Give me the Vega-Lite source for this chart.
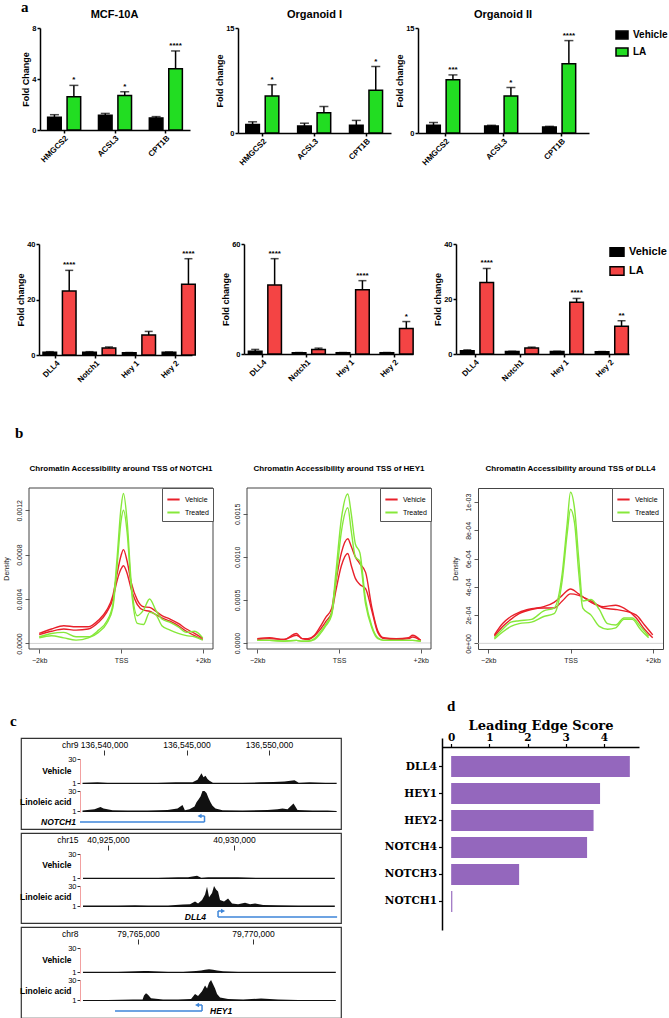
{
"$schema":"https://vega.github.io/schema/vega-lite/v6.json",
"background":"white",
"padding":{"left":2,"top":0,"right":0,"bottom":0},
"config":{
 "font":"Liberation Sans",
 "view":{"stroke":null},
 "axis":{"labelFont":"Liberation Sans","titleFont":"Liberation Sans","labelFontWeight":"bold","titleFontWeight":"bold","labelFontSize":7.5,"titleFontSize":9,"domainColor":"black","tickColor":"black","labelColor":"black","titleColor":"black","domainWidth":1.5,"tickWidth":1.5,"tickSize":3,"grid":false,"labelPadding":1,"titlePadding":1,"labelOverlap":false},
 "title":{"font":"Liberation Sans","fontWeight":"bold","color":"black"},
 "legend":{"labelFont":"Liberation Sans","labelColor":"black"}
},
"datasets":{
"mcf":[
{"gene":"HMGCS2","group":"Vehicle","mean":1.0,"upper":1.2,"sig":""},
{"gene":"HMGCS2","group":"LA","mean":2.6,"upper":3.5,"sig":"*"},
{"gene":"ACSL3","group":"Vehicle","mean":1.15,"upper":1.3,"sig":""},
{"gene":"ACSL3","group":"LA","mean":2.7,"upper":3.0,"sig":"*"},
{"gene":"CPT1B","group":"Vehicle","mean":0.95,"upper":1.05,"sig":""},
{"gene":"CPT1B","group":"LA","mean":4.8,"upper":6.2,"sig":"****"}],
"org1":[
{"gene":"HMGCS2","group":"Vehicle","mean":1.2,"upper":1.6,"sig":""},
{"gene":"HMGCS2","group":"LA","mean":5.3,"upper":6.9,"sig":"*"},
{"gene":"ACSL3","group":"Vehicle","mean":1.0,"upper":1.4,"sig":""},
{"gene":"ACSL3","group":"LA","mean":2.9,"upper":3.8,"sig":""},
{"gene":"CPT1B","group":"Vehicle","mean":1.1,"upper":1.8,"sig":""},
{"gene":"CPT1B","group":"LA","mean":6.1,"upper":9.5,"sig":"*"}],
"org2":[
{"gene":"HMGCS2","group":"Vehicle","mean":1.1,"upper":1.5,"sig":""},
{"gene":"HMGCS2","group":"LA","mean":7.6,"upper":8.3,"sig":"***"},
{"gene":"ACSL3","group":"Vehicle","mean":1.0,"upper":1.1,"sig":""},
{"gene":"ACSL3","group":"LA","mean":5.3,"upper":6.5,"sig":"*"},
{"gene":"CPT1B","group":"Vehicle","mean":0.85,"upper":0.95,"sig":""},
{"gene":"CPT1B","group":"LA","mean":9.9,"upper":13.2,"sig":"****"}],
"n1":[
{"gene":"DLL4","group":"Vehicle","mean":1.0,"upper":1.2,"sig":""},
{"gene":"DLL4","group":"LA","mean":23.1,"upper":30.5,"sig":"****"},
{"gene":"Notch1","group":"Vehicle","mean":1.0,"upper":1.2,"sig":""},
{"gene":"Notch1","group":"LA","mean":2.5,"upper":2.9,"sig":""},
{"gene":"Hey 1","group":"Vehicle","mean":0.8,"upper":0.9,"sig":""},
{"gene":"Hey 1","group":"LA","mean":7.2,"upper":8.5,"sig":""},
{"gene":"Hey 2","group":"Vehicle","mean":1.0,"upper":1.1,"sig":""},
{"gene":"Hey 2","group":"LA","mean":25.5,"upper":34.7,"sig":"****"}],
"n2":[
{"gene":"DLL4","group":"Vehicle","mean":1.5,"upper":2.5,"sig":""},
{"gene":"DLL4","group":"LA","mean":37.7,"upper":52,"sig":"****"},
{"gene":"Notch1","group":"Vehicle","mean":0.7,"upper":0.8,"sig":""},
{"gene":"Notch1","group":"LA","mean":2.5,"upper":3.2,"sig":""},
{"gene":"Hey 1","group":"Vehicle","mean":0.7,"upper":0.8,"sig":""},
{"gene":"Hey 1","group":"LA","mean":35,"upper":40,"sig":"****"},
{"gene":"Hey 2","group":"Vehicle","mean":0.7,"upper":0.8,"sig":""},
{"gene":"Hey 2","group":"LA","mean":13.9,"upper":17.7,"sig":"*"}],
"n3":[
{"gene":"DLL4","group":"Vehicle","mean":1.2,"upper":1.5,"sig":""},
{"gene":"DLL4","group":"LA","mean":26,"upper":31.1,"sig":"****"},
{"gene":"Notch1","group":"Vehicle","mean":0.9,"upper":1.0,"sig":""},
{"gene":"Notch1","group":"LA","mean":2.2,"upper":2.5,"sig":""},
{"gene":"Hey 1","group":"Vehicle","mean":0.9,"upper":1.0,"sig":""},
{"gene":"Hey 1","group":"LA","mean":18.8,"upper":20.2,"sig":"****"},
{"gene":"Hey 2","group":"Vehicle","mean":0.8,"upper":0.9,"sig":""},
{"gene":"Hey 2","group":"LA","mean":10.1,"upper":12.1,"sig":"**"}],
"dN":[
{"cond":"Vehicle","rep":"A","pos":-2000,"density":0.9e-4},{"cond":"Vehicle","rep":"A","pos":-1700,"density":1.3e-4},{"cond":"Vehicle","rep":"A","pos":-1400,"density":1.6e-4},{"cond":"Vehicle","rep":"A","pos":-1100,"density":1.5e-4},{"cond":"Vehicle","rep":"A","pos":-800,"density":1.5e-4},{"cond":"Vehicle","rep":"A","pos":-550,"density":2.1e-4},{"cond":"Vehicle","rep":"A","pos":-350,"density":3.0e-4},{"cond":"Vehicle","rep":"A","pos":-200,"density":4.3e-4},{"cond":"Vehicle","rep":"A","pos":-100,"density":6.2e-4},{"cond":"Vehicle","rep":"A","pos":0,"density":7.9e-4},{"cond":"Vehicle","rep":"A","pos":60,"density":8.45e-4},{"cond":"Vehicle","rep":"A","pos":150,"density":7.4e-4},{"cond":"Vehicle","rep":"A","pos":250,"density":5.5e-4},{"cond":"Vehicle","rep":"A","pos":400,"density":3.9e-4},{"cond":"Vehicle","rep":"A","pos":550,"density":3.3e-4},{"cond":"Vehicle","rep":"A","pos":700,"density":3.25e-4},{"cond":"Vehicle","rep":"A","pos":850,"density":2.9e-4},{"cond":"Vehicle","rep":"A","pos":1000,"density":2.5e-4},{"cond":"Vehicle","rep":"A","pos":1200,"density":2.2e-4},{"cond":"Vehicle","rep":"A","pos":1400,"density":1.8e-4},{"cond":"Vehicle","rep":"A","pos":1600,"density":1.3e-4},{"cond":"Vehicle","rep":"A","pos":1800,"density":0.9e-4},{"cond":"Vehicle","rep":"A","pos":2000,"density":0.45e-4},
{"cond":"Vehicle","rep":"B","pos":-2000,"density":0.8e-4},{"cond":"Vehicle","rep":"B","pos":-1700,"density":1.1e-4},{"cond":"Vehicle","rep":"B","pos":-1400,"density":1.3e-4},{"cond":"Vehicle","rep":"B","pos":-1100,"density":1.2e-4},{"cond":"Vehicle","rep":"B","pos":-800,"density":1.3e-4},{"cond":"Vehicle","rep":"B","pos":-550,"density":1.9e-4},{"cond":"Vehicle","rep":"B","pos":-350,"density":2.8e-4},{"cond":"Vehicle","rep":"B","pos":-200,"density":4.0e-4},{"cond":"Vehicle","rep":"B","pos":-100,"density":5.6e-4},{"cond":"Vehicle","rep":"B","pos":0,"density":6.7e-4},{"cond":"Vehicle","rep":"B","pos":60,"density":7.0e-4},{"cond":"Vehicle","rep":"B","pos":150,"density":6.3e-4},{"cond":"Vehicle","rep":"B","pos":250,"density":4.9e-4},{"cond":"Vehicle","rep":"B","pos":400,"density":3.5e-4},{"cond":"Vehicle","rep":"B","pos":550,"density":3.0e-4},{"cond":"Vehicle","rep":"B","pos":700,"density":2.9e-4},{"cond":"Vehicle","rep":"B","pos":850,"density":2.6e-4},{"cond":"Vehicle","rep":"B","pos":1000,"density":2.3e-4},{"cond":"Vehicle","rep":"B","pos":1200,"density":2.0e-4},{"cond":"Vehicle","rep":"B","pos":1400,"density":1.6e-4},{"cond":"Vehicle","rep":"B","pos":1600,"density":1.1e-4},{"cond":"Vehicle","rep":"B","pos":1800,"density":0.7e-4},{"cond":"Vehicle","rep":"B","pos":2000,"density":0.35e-4},
{"cond":"Treated","rep":"A","pos":-2000,"density":0.6e-4},{"cond":"Treated","rep":"A","pos":-1700,"density":0.9e-4},{"cond":"Treated","rep":"A","pos":-1400,"density":1.0e-4},{"cond":"Treated","rep":"A","pos":-1100,"density":0.6e-4},{"cond":"Treated","rep":"A","pos":-800,"density":0.6e-4},{"cond":"Treated","rep":"A","pos":-550,"density":1.2e-4},{"cond":"Treated","rep":"A","pos":-350,"density":2.0e-4},{"cond":"Treated","rep":"A","pos":-200,"density":3.5e-4},{"cond":"Treated","rep":"A","pos":-100,"density":7.5e-4},{"cond":"Treated","rep":"A","pos":0,"density":12.2e-4},{"cond":"Treated","rep":"A","pos":60,"density":13.5e-4},{"cond":"Treated","rep":"A","pos":150,"density":11.0e-4},{"cond":"Treated","rep":"A","pos":250,"density":5.5e-4},{"cond":"Treated","rep":"A","pos":400,"density":2.5e-4},{"cond":"Treated","rep":"A","pos":550,"density":3.0e-4},{"cond":"Treated","rep":"A","pos":700,"density":4.0e-4},{"cond":"Treated","rep":"A","pos":850,"density":3.0e-4},{"cond":"Treated","rep":"A","pos":1000,"density":2.2e-4},{"cond":"Treated","rep":"A","pos":1200,"density":1.9e-4},{"cond":"Treated","rep":"A","pos":1400,"density":1.5e-4},{"cond":"Treated","rep":"A","pos":1600,"density":1.0e-4},{"cond":"Treated","rep":"A","pos":1800,"density":1.1e-4},{"cond":"Treated","rep":"A","pos":2000,"density":0.5e-4},
{"cond":"Treated","rep":"B","pos":-2000,"density":0.5e-4},{"cond":"Treated","rep":"B","pos":-1700,"density":0.7e-4},{"cond":"Treated","rep":"B","pos":-1400,"density":0.5e-4},{"cond":"Treated","rep":"B","pos":-1100,"density":0.3e-4},{"cond":"Treated","rep":"B","pos":-800,"density":0.5e-4},{"cond":"Treated","rep":"B","pos":-550,"density":1.0e-4},{"cond":"Treated","rep":"B","pos":-350,"density":1.8e-4},{"cond":"Treated","rep":"B","pos":-200,"density":3.2e-4},{"cond":"Treated","rep":"B","pos":-100,"density":6.8e-4},{"cond":"Treated","rep":"B","pos":0,"density":11.0e-4},{"cond":"Treated","rep":"B","pos":60,"density":12.0e-4},{"cond":"Treated","rep":"B","pos":150,"density":10.0e-4},{"cond":"Treated","rep":"B","pos":250,"density":5.0e-4},{"cond":"Treated","rep":"B","pos":400,"density":1.8e-4},{"cond":"Treated","rep":"B","pos":550,"density":1.7e-4},{"cond":"Treated","rep":"B","pos":700,"density":2.8e-4},{"cond":"Treated","rep":"B","pos":850,"density":2.6e-4},{"cond":"Treated","rep":"B","pos":1000,"density":1.6e-4},{"cond":"Treated","rep":"B","pos":1200,"density":1.2e-4},{"cond":"Treated","rep":"B","pos":1400,"density":0.9e-4},{"cond":"Treated","rep":"B","pos":1600,"density":0.7e-4},{"cond":"Treated","rep":"B","pos":1800,"density":0.6e-4},{"cond":"Treated","rep":"B","pos":2000,"density":0.3e-4}],
"dH":[
{"cond":"Vehicle","rep":"A","pos":-2000,"density":0.5e-4},{"cond":"Vehicle","rep":"A","pos":-1700,"density":0.6e-4},{"cond":"Vehicle","rep":"A","pos":-1350,"density":0.4e-4},{"cond":"Vehicle","rep":"A","pos":-1040,"density":1.1e-4},{"cond":"Vehicle","rep":"A","pos":-900,"density":0.5e-4},{"cond":"Vehicle","rep":"A","pos":-760,"density":0.5e-4},{"cond":"Vehicle","rep":"A","pos":-600,"density":0.9e-4},{"cond":"Vehicle","rep":"A","pos":-470,"density":1.8e-4},{"cond":"Vehicle","rep":"A","pos":-320,"density":3.0e-4},{"cond":"Vehicle","rep":"A","pos":-180,"density":4.0e-4},{"cond":"Vehicle","rep":"A","pos":-80,"density":7.0e-4},{"cond":"Vehicle","rep":"A","pos":60,"density":10.5e-4},{"cond":"Vehicle","rep":"A","pos":215,"density":12.1e-4},{"cond":"Vehicle","rep":"A","pos":300,"density":11.2e-4},{"cond":"Vehicle","rep":"A","pos":400,"density":10.0e-4},{"cond":"Vehicle","rep":"A","pos":510,"density":9.2e-4},{"cond":"Vehicle","rep":"A","pos":650,"density":8.2e-4},{"cond":"Vehicle","rep":"A","pos":800,"density":4.2e-4},{"cond":"Vehicle","rep":"A","pos":950,"density":1.4e-4},{"cond":"Vehicle","rep":"A","pos":1100,"density":0.6e-4},{"cond":"Vehicle","rep":"A","pos":1400,"density":0.5e-4},{"cond":"Vehicle","rep":"A","pos":1700,"density":0.6e-4},{"cond":"Vehicle","rep":"A","pos":1800,"density":0.9e-4},{"cond":"Vehicle","rep":"A","pos":2000,"density":0.3e-4},
{"cond":"Vehicle","rep":"B","pos":-2000,"density":0.4e-4},{"cond":"Vehicle","rep":"B","pos":-1700,"density":0.5e-4},{"cond":"Vehicle","rep":"B","pos":-1350,"density":0.4e-4},{"cond":"Vehicle","rep":"B","pos":-1040,"density":0.9e-4},{"cond":"Vehicle","rep":"B","pos":-900,"density":0.5e-4},{"cond":"Vehicle","rep":"B","pos":-760,"density":0.4e-4},{"cond":"Vehicle","rep":"B","pos":-600,"density":0.8e-4},{"cond":"Vehicle","rep":"B","pos":-470,"density":1.5e-4},{"cond":"Vehicle","rep":"B","pos":-320,"density":2.5e-4},{"cond":"Vehicle","rep":"B","pos":-180,"density":3.5e-4},{"cond":"Vehicle","rep":"B","pos":-80,"density":6.0e-4},{"cond":"Vehicle","rep":"B","pos":60,"density":9.0e-4},{"cond":"Vehicle","rep":"B","pos":215,"density":10.4e-4},{"cond":"Vehicle","rep":"B","pos":300,"density":9.0e-4},{"cond":"Vehicle","rep":"B","pos":400,"density":7.5e-4},{"cond":"Vehicle","rep":"B","pos":510,"density":6.8e-4},{"cond":"Vehicle","rep":"B","pos":650,"density":6.3e-4},{"cond":"Vehicle","rep":"B","pos":800,"density":3.8e-4},{"cond":"Vehicle","rep":"B","pos":950,"density":1.2e-4},{"cond":"Vehicle","rep":"B","pos":1100,"density":0.5e-4},{"cond":"Vehicle","rep":"B","pos":1400,"density":0.4e-4},{"cond":"Vehicle","rep":"B","pos":1700,"density":0.5e-4},{"cond":"Vehicle","rep":"B","pos":1800,"density":0.7e-4},{"cond":"Vehicle","rep":"B","pos":2000,"density":0.3e-4},
{"cond":"Treated","rep":"A","pos":-2000,"density":0.3e-4},{"cond":"Treated","rep":"A","pos":-1700,"density":0.3e-4},{"cond":"Treated","rep":"A","pos":-1350,"density":0.2e-4},{"cond":"Treated","rep":"A","pos":-1040,"density":0.3e-4},{"cond":"Treated","rep":"A","pos":-900,"density":0.2e-4},{"cond":"Treated","rep":"A","pos":-760,"density":0.2e-4},{"cond":"Treated","rep":"A","pos":-600,"density":0.5e-4},{"cond":"Treated","rep":"A","pos":-470,"density":1.2e-4},{"cond":"Treated","rep":"A","pos":-320,"density":2.2e-4},{"cond":"Treated","rep":"A","pos":-180,"density":3.5e-4},{"cond":"Treated","rep":"A","pos":-80,"density":8.0e-4},{"cond":"Treated","rep":"A","pos":60,"density":14.5e-4},{"cond":"Treated","rep":"A","pos":215,"density":17.3e-4},{"cond":"Treated","rep":"A","pos":300,"density":15.0e-4},{"cond":"Treated","rep":"A","pos":400,"density":11.5e-4},{"cond":"Treated","rep":"A","pos":510,"density":10.5e-4},{"cond":"Treated","rep":"A","pos":650,"density":5.0e-4},{"cond":"Treated","rep":"A","pos":800,"density":2.0e-4},{"cond":"Treated","rep":"A","pos":950,"density":0.6e-4},{"cond":"Treated","rep":"A","pos":1100,"density":0.3e-4},{"cond":"Treated","rep":"A","pos":1400,"density":0.3e-4},{"cond":"Treated","rep":"A","pos":1700,"density":0.3e-4},{"cond":"Treated","rep":"A","pos":1800,"density":0.3e-4},{"cond":"Treated","rep":"A","pos":2000,"density":0.2e-4},
{"cond":"Treated","rep":"B","pos":-2000,"density":0.3e-4},{"cond":"Treated","rep":"B","pos":-1700,"density":0.3e-4},{"cond":"Treated","rep":"B","pos":-1350,"density":0.2e-4},{"cond":"Treated","rep":"B","pos":-1040,"density":0.3e-4},{"cond":"Treated","rep":"B","pos":-900,"density":0.2e-4},{"cond":"Treated","rep":"B","pos":-760,"density":0.2e-4},{"cond":"Treated","rep":"B","pos":-600,"density":0.4e-4},{"cond":"Treated","rep":"B","pos":-470,"density":1.0e-4},{"cond":"Treated","rep":"B","pos":-320,"density":2.0e-4},{"cond":"Treated","rep":"B","pos":-180,"density":3.2e-4},{"cond":"Treated","rep":"B","pos":-80,"density":7.0e-4},{"cond":"Treated","rep":"B","pos":60,"density":13.0e-4},{"cond":"Treated","rep":"B","pos":215,"density":15.7e-4},{"cond":"Treated","rep":"B","pos":300,"density":13.0e-4},{"cond":"Treated","rep":"B","pos":400,"density":10.0e-4},{"cond":"Treated","rep":"B","pos":510,"density":9.5e-4},{"cond":"Treated","rep":"B","pos":650,"density":4.5e-4},{"cond":"Treated","rep":"B","pos":800,"density":1.8e-4},{"cond":"Treated","rep":"B","pos":950,"density":0.5e-4},{"cond":"Treated","rep":"B","pos":1100,"density":0.3e-4},{"cond":"Treated","rep":"B","pos":1400,"density":0.3e-4},{"cond":"Treated","rep":"B","pos":1700,"density":0.3e-4},{"cond":"Treated","rep":"B","pos":1800,"density":0.3e-4},{"cond":"Treated","rep":"B","pos":2000,"density":0.2e-4}],
"dD":[
{"cond":"Vehicle","rep":"A","pos":-1850,"density":0.6e-4},{"cond":"Vehicle","rep":"A","pos":-1650,"density":1.4e-4},{"cond":"Vehicle","rep":"A","pos":-1450,"density":1.9e-4},{"cond":"Vehicle","rep":"A","pos":-1250,"density":2.2e-4},{"cond":"Vehicle","rep":"A","pos":-950,"density":2.45e-4},{"cond":"Vehicle","rep":"A","pos":-650,"density":2.6e-4},{"cond":"Vehicle","rep":"A","pos":-400,"density":2.9e-4},{"cond":"Vehicle","rep":"A","pos":-200,"density":3.4e-4},{"cond":"Vehicle","rep":"A","pos":0,"density":3.85e-4},{"cond":"Vehicle","rep":"A","pos":200,"density":3.5e-4},{"cond":"Vehicle","rep":"A","pos":500,"density":2.9e-4},{"cond":"Vehicle","rep":"A","pos":800,"density":2.6e-4},{"cond":"Vehicle","rep":"A","pos":1100,"density":2.7e-4},{"cond":"Vehicle","rep":"A","pos":1300,"density":2.5e-4},{"cond":"Vehicle","rep":"A","pos":1600,"density":1.8e-4},{"cond":"Vehicle","rep":"A","pos":1800,"density":1.0e-4},{"cond":"Vehicle","rep":"A","pos":2000,"density":0.4e-4},
{"cond":"Vehicle","rep":"B","pos":-1850,"density":0.5e-4},{"cond":"Vehicle","rep":"B","pos":-1650,"density":1.2e-4},{"cond":"Vehicle","rep":"B","pos":-1450,"density":1.7e-4},{"cond":"Vehicle","rep":"B","pos":-1250,"density":2.1e-4},{"cond":"Vehicle","rep":"B","pos":-950,"density":2.4e-4},{"cond":"Vehicle","rep":"B","pos":-650,"density":2.5e-4},{"cond":"Vehicle","rep":"B","pos":-400,"density":2.5e-4},{"cond":"Vehicle","rep":"B","pos":-200,"density":3.0e-4},{"cond":"Vehicle","rep":"B","pos":0,"density":3.5e-4},{"cond":"Vehicle","rep":"B","pos":200,"density":3.4e-4},{"cond":"Vehicle","rep":"B","pos":500,"density":3.0e-4},{"cond":"Vehicle","rep":"B","pos":800,"density":2.5e-4},{"cond":"Vehicle","rep":"B","pos":1100,"density":2.4e-4},{"cond":"Vehicle","rep":"B","pos":1300,"density":2.3e-4},{"cond":"Vehicle","rep":"B","pos":1600,"density":2.0e-4},{"cond":"Vehicle","rep":"B","pos":1800,"density":1.3e-4},{"cond":"Vehicle","rep":"B","pos":2000,"density":0.6e-4},
{"cond":"Treated","rep":"A","pos":-1850,"density":0.4e-4},{"cond":"Treated","rep":"A","pos":-1650,"density":1.0e-4},{"cond":"Treated","rep":"A","pos":-1450,"density":1.5e-4},{"cond":"Treated","rep":"A","pos":-1250,"density":1.6e-4},{"cond":"Treated","rep":"A","pos":-950,"density":1.7e-4},{"cond":"Treated","rep":"A","pos":-650,"density":2.3e-4},{"cond":"Treated","rep":"A","pos":-400,"density":2.5e-4},{"cond":"Treated","rep":"A","pos":-200,"density":5.0e-4},{"cond":"Treated","rep":"A","pos":-80,"density":8.5e-4},{"cond":"Treated","rep":"A","pos":0,"density":10.7e-4},{"cond":"Treated","rep":"A","pos":100,"density":9.5e-4},{"cond":"Treated","rep":"A","pos":200,"density":6.0e-4},{"cond":"Treated","rep":"A","pos":300,"density":3.0e-4},{"cond":"Treated","rep":"A","pos":500,"density":3.1e-4},{"cond":"Treated","rep":"A","pos":700,"density":2.4e-4},{"cond":"Treated","rep":"A","pos":900,"density":1.4e-4},{"cond":"Treated","rep":"A","pos":1100,"density":1.3e-4},{"cond":"Treated","rep":"A","pos":1300,"density":1.8e-4},{"cond":"Treated","rep":"A","pos":1500,"density":1.8e-4},{"cond":"Treated","rep":"A","pos":1700,"density":1.2e-4},{"cond":"Treated","rep":"A","pos":1900,"density":0.5e-4},
{"cond":"Treated","rep":"B","pos":-1850,"density":0.3e-4},{"cond":"Treated","rep":"B","pos":-1650,"density":0.8e-4},{"cond":"Treated","rep":"B","pos":-1450,"density":1.2e-4},{"cond":"Treated","rep":"B","pos":-1250,"density":1.4e-4},{"cond":"Treated","rep":"B","pos":-950,"density":1.5e-4},{"cond":"Treated","rep":"B","pos":-650,"density":1.9e-4},{"cond":"Treated","rep":"B","pos":-400,"density":2.1e-4},{"cond":"Treated","rep":"B","pos":-200,"density":4.5e-4},{"cond":"Treated","rep":"B","pos":-80,"density":7.8e-4},{"cond":"Treated","rep":"B","pos":0,"density":9.5e-4},{"cond":"Treated","rep":"B","pos":100,"density":8.5e-4},{"cond":"Treated","rep":"B","pos":200,"density":5.0e-4},{"cond":"Treated","rep":"B","pos":300,"density":2.5e-4},{"cond":"Treated","rep":"B","pos":500,"density":2.0e-4},{"cond":"Treated","rep":"B","pos":700,"density":1.2e-4},{"cond":"Treated","rep":"B","pos":900,"density":1.0e-4},{"cond":"Treated","rep":"B","pos":1100,"density":1.1e-4},{"cond":"Treated","rep":"B","pos":1300,"density":1.7e-4},{"cond":"Treated","rep":"B","pos":1500,"density":1.7e-4},{"cond":"Treated","rep":"B","pos":1700,"density":1.0e-4},{"cond":"Treated","rep":"B","pos":1900,"density":0.4e-4}],
"sig1":[
{"track":"Vehicle","pos":136538698,"signal":1.5},{"track":"Vehicle","pos":136539607,"signal":2},{"track":"Vehicle","pos":136540213,"signal":1.5},{"track":"Vehicle","pos":136541122,"signal":1.5},{"track":"Vehicle","pos":136542031,"signal":1.5},{"track":"Vehicle","pos":136543243,"signal":1.5},{"track":"Vehicle","pos":136544333,"signal":2},{"track":"Vehicle","pos":136545364,"signal":2},{"track":"Vehicle","pos":136545667,"signal":5},{"track":"Vehicle","pos":136545788,"signal":9},{"track":"Vehicle","pos":136545909,"signal":13},{"track":"Vehicle","pos":136546030,"signal":8},{"track":"Vehicle","pos":136546151,"signal":10},{"track":"Vehicle","pos":136546273,"signal":6},{"track":"Vehicle","pos":136546394,"signal":4},{"track":"Vehicle","pos":136546600,"signal":1.5},{"track":"Vehicle","pos":136547182,"signal":1.5},{"track":"Vehicle","pos":136548394,"signal":1.5},{"track":"Vehicle","pos":136549424,"signal":2},{"track":"Vehicle","pos":136550272,"signal":2.5},{"track":"Vehicle","pos":136550939,"signal":3},{"track":"Vehicle","pos":136551545,"signal":4.5},{"track":"Vehicle","pos":136551800,"signal":1.5},{"track":"Vehicle","pos":136552454,"signal":2},{"track":"Vehicle","pos":136553423,"signal":1.5},{"track":"Vehicle","pos":136554100,"signal":1.5},
{"track":"LA","pos":136538698,"signal":2},{"track":"LA","pos":136539425,"signal":4},{"track":"LA","pos":136539788,"signal":7},{"track":"LA","pos":136539970,"signal":5},{"track":"LA","pos":136540515,"signal":2.5},{"track":"LA","pos":136541425,"signal":2},{"track":"LA","pos":136542637,"signal":2},{"track":"LA","pos":136543849,"signal":3},{"track":"LA","pos":136544455,"signal":5},{"track":"LA","pos":136544758,"signal":10},{"track":"LA","pos":136544900,"signal":2.5},{"track":"LA","pos":136545182,"signal":4},{"track":"LA","pos":136545485,"signal":8},{"track":"LA","pos":136545606,"signal":14},{"track":"LA","pos":136545727,"signal":18},{"track":"LA","pos":136545848,"signal":22},{"track":"LA","pos":136545970,"signal":30},{"track":"LA","pos":136546091,"signal":30},{"track":"LA","pos":136546212,"signal":27},{"track":"LA","pos":136546333,"signal":20},{"track":"LA","pos":136546454,"signal":14},{"track":"LA","pos":136546576,"signal":9},{"track":"LA","pos":136546757,"signal":5},{"track":"LA","pos":136547182,"signal":2.5},{"track":"LA","pos":136548394,"signal":2},{"track":"LA","pos":136549909,"signal":3},{"track":"LA","pos":136550515,"signal":4},{"track":"LA","pos":136550818,"signal":5},{"track":"LA","pos":136551121,"signal":4},{"track":"LA","pos":136551485,"signal":12},{"track":"LA","pos":136551727,"signal":3},{"track":"LA","pos":136552636,"signal":2},{"track":"LA","pos":136553545,"signal":2},{"track":"LA","pos":136554100,"signal":1.5}],
"sig2":[
{"track":"Vehicle","pos":40924008,"signal":1.5},{"track":"Vehicle","pos":40924603,"signal":1.5},{"track":"Vehicle","pos":40925397,"signal":1.5},{"track":"Vehicle","pos":40926191,"signal":1.5},{"track":"Vehicle","pos":40926985,"signal":1.5},{"track":"Vehicle","pos":40927779,"signal":2},{"track":"Vehicle","pos":40928176,"signal":2},{"track":"Vehicle","pos":40928533,"signal":4},{"track":"Vehicle","pos":40928700,"signal":1.5},{"track":"Vehicle","pos":40928970,"signal":2},{"track":"Vehicle","pos":40929566,"signal":2},{"track":"Vehicle","pos":40930161,"signal":2},{"track":"Vehicle","pos":40930955,"signal":1.5},{"track":"Vehicle","pos":40931749,"signal":1.5},{"track":"Vehicle","pos":40932543,"signal":1.5},{"track":"Vehicle","pos":40933337,"signal":1.5},{"track":"Vehicle","pos":40934000,"signal":1.5},
{"track":"LA","pos":40924008,"signal":2},{"track":"LA","pos":40924603,"signal":2},{"track":"LA","pos":40925397,"signal":2},{"track":"LA","pos":40926072,"signal":2.5},{"track":"LA","pos":40926588,"signal":2},{"track":"LA","pos":40927382,"signal":2},{"track":"LA","pos":40927978,"signal":3.5},{"track":"LA","pos":40928255,"signal":4},{"track":"LA","pos":40928454,"signal":8},{"track":"LA","pos":40928573,"signal":5},{"track":"LA","pos":40928732,"signal":10},{"track":"LA","pos":40928851,"signal":18},{"track":"LA","pos":40928930,"signal":29},{"track":"LA","pos":40929010,"signal":14},{"track":"LA","pos":40929129,"signal":20},{"track":"LA","pos":40929208,"signal":30},{"track":"LA","pos":40929288,"signal":25},{"track":"LA","pos":40929367,"signal":22},{"track":"LA","pos":40929446,"signal":10},{"track":"LA","pos":40929605,"signal":8},{"track":"LA","pos":40929764,"signal":12},{"track":"LA","pos":40929923,"signal":5},{"track":"LA","pos":40930161,"signal":4},{"track":"LA","pos":40930439,"signal":6},{"track":"LA","pos":40930637,"signal":4},{"track":"LA","pos":40930836,"signal":5},{"track":"LA","pos":40931154,"signal":3},{"track":"LA","pos":40931749,"signal":2.5},{"track":"LA","pos":40932543,"signal":2},{"track":"LA","pos":40933337,"signal":2},{"track":"LA","pos":40934000,"signal":2}],
"sig3":[
{"track":"Vehicle","pos":79762607,"signal":1.5},{"track":"Vehicle","pos":79763260,"signal":1.5},{"track":"Vehicle","pos":79764130,"signal":1.5},{"track":"Vehicle","pos":79765261,"signal":2.5},{"track":"Vehicle","pos":79765435,"signal":2.5},{"track":"Vehicle","pos":79765696,"signal":2},{"track":"Vehicle","pos":79766305,"signal":1.5},{"track":"Vehicle","pos":79766957,"signal":1.5},{"track":"Vehicle","pos":79767523,"signal":2.5},{"track":"Vehicle","pos":79767741,"signal":3},{"track":"Vehicle","pos":79767915,"signal":4},{"track":"Vehicle","pos":79768089,"signal":4.5},{"track":"Vehicle","pos":79768263,"signal":4},{"track":"Vehicle","pos":79768437,"signal":3},{"track":"Vehicle","pos":79768698,"signal":2},{"track":"Vehicle","pos":79769350,"signal":1.5},{"track":"Vehicle","pos":79770220,"signal":1.5},{"track":"Vehicle","pos":79771090,"signal":1.5},{"track":"Vehicle","pos":79771960,"signal":1.5},{"track":"Vehicle","pos":79772830,"signal":1.5},{"track":"Vehicle","pos":79773600,"signal":1.5},
{"track":"LA","pos":79762607,"signal":1.5},{"track":"LA","pos":79763695,"signal":1.5},{"track":"LA","pos":79764783,"signal":2},{"track":"LA","pos":79765200,"signal":2},{"track":"LA","pos":79765261,"signal":8},{"track":"LA","pos":79765348,"signal":11},{"track":"LA","pos":79765435,"signal":9},{"track":"LA","pos":79765566,"signal":4},{"track":"LA","pos":79766088,"signal":2},{"track":"LA","pos":79766740,"signal":2},{"track":"LA","pos":79767306,"signal":3},{"track":"LA","pos":79767480,"signal":10},{"track":"LA","pos":79767610,"signal":7},{"track":"LA","pos":79767784,"signal":14},{"track":"LA","pos":79767915,"signal":22},{"track":"LA","pos":79768002,"signal":18},{"track":"LA","pos":79768089,"signal":26},{"track":"LA","pos":79768176,"signal":30},{"track":"LA","pos":79768263,"signal":24},{"track":"LA","pos":79768350,"signal":18},{"track":"LA","pos":79768437,"signal":10},{"track":"LA","pos":79768567,"signal":5},{"track":"LA","pos":79768915,"signal":3},{"track":"LA","pos":79769568,"signal":2},{"track":"LA","pos":79770351,"signal":3.5},{"track":"LA","pos":79771090,"signal":2},{"track":"LA","pos":79771960,"signal":1.5},{"track":"LA","pos":79772830,"signal":1.5},{"track":"LA","pos":79773600,"signal":1.5}],
"genes":[
{"gene":"NOTCH1","start":136538545,"end":136546091,"tss":136546091,"tip":136545788},
{"gene":"DLL4","start":40929367,"end":40934091,"tss":40929367,"tip":40929566},
{"gene":"HEY1","start":79764000,"end":79767784,"tss":79767784,"tip":79767567}],
"le":[
{"gene":"DLL4","score":4.68},{"gene":"HEY1","score":3.9},{"gene":"HEY2","score":3.73},{"gene":"NOTCH4","score":3.56},{"gene":"NOTCH3","score":1.78},{"gene":"NOTCH1","score":0.03}]
},
"resolve":{"scale":{"x":"independent","y":"independent","color":"independent"}},
"spacing":42,
"vconcat":[
{"spacing":73,"resolve":{"scale":{"x":"independent","y":"independent","color":"independent"}},
 "vconcat":[
 {"title":{"text":"a","anchor":"start","font":"Liberation Serif","fontSize":15,"fontWeight":"bold","offset":-6},
  "spacing":4,"resolve":{"scale":{"x":"independent","y":"independent","color":"independent"}},
  "hconcat":[
  {"width":169,"height":102,"title":{"text":"MCF-10A","fontSize":11,"offset":4,"dx":9},"data":{"name":"mcf"},
   "encoding":{"x":{"field":"gene","type":"nominal","sort":null,"scale":{"range":[19,169],"paddingInner":0.35,"paddingOuter":0.15},"axis":{"title":null,"labelAngle":-45,"labelFontSize":8}},"xOffset":{"field":"group","type":"nominal","sort":["Vehicle","LA"],"scale":{"paddingInner":0.3}}},
   "layer":[
    {"mark":{"type":"bar","stroke":"black","strokeWidth":1.5},"encoding":{"y":{"field":"mean","type":"quantitative","scale":{"domain":[0,8],"nice":false},"axis":{"title":"Fold Change","values":[0,2,4,6,8],"offset":-19}},"color":{"field":"group","type":"nominal","scale":{"domain":["Vehicle","LA"],"range":["#000000","#22dd22"]},"legend":null}}},
    {"mark":{"type":"rule","strokeWidth":1.5,"color":"black"},"encoding":{"y":{"field":"mean","type":"quantitative"},"y2":{"field":"upper"}}},
    {"mark":{"type":"tick","thickness":1.5,"size":9,"color":"black"},"encoding":{"y":{"field":"upper","type":"quantitative"}}},
    {"mark":{"type":"text","baseline":"bottom","dy":-1,"fontSize":8,"fontWeight":"bold"},"encoding":{"y":{"field":"upper","type":"quantitative"},"text":{"field":"sig"}}}]},
  {"width":197,"height":105,"title":{"text":"Organoid I","fontSize":11,"offset":4,"dx":22},"data":{"name":"org1"},
   "encoding":{"x":{"field":"gene","type":"nominal","sort":null,"scale":{"range":[44,197],"paddingInner":0.35,"paddingOuter":0.15},"axis":{"title":null,"labelAngle":-45,"labelFontSize":8}},"xOffset":{"field":"group","type":"nominal","sort":["Vehicle","LA"],"scale":{"paddingInner":0.3}}},
   "layer":[
    {"mark":{"type":"bar","stroke":"black","strokeWidth":1.5},"encoding":{"y":{"field":"mean","type":"quantitative","scale":{"domain":[0,15],"nice":false},"axis":{"title":"Fold change","values":[0,5,10,15],"offset":-44}},"color":{"field":"group","type":"nominal","scale":{"domain":["Vehicle","LA"],"range":["#000000","#22dd22"]},"legend":null}}},
    {"mark":{"type":"rule","strokeWidth":1.5,"color":"black"},"encoding":{"y":{"field":"mean","type":"quantitative"},"y2":{"field":"upper"}}},
    {"mark":{"type":"tick","thickness":1.5,"size":9,"color":"black"},"encoding":{"y":{"field":"upper","type":"quantitative"}}},
    {"mark":{"type":"text","baseline":"bottom","dy":-1,"fontSize":8,"fontWeight":"bold"},"encoding":{"y":{"field":"upper","type":"quantitative"},"text":{"field":"sig"}}}]},
  {"width":194,"height":105,"title":{"text":"Organoid II","fontSize":11,"offset":4,"dx":11},"data":{"name":"org2"},
   "encoding":{"x":{"field":"gene","type":"nominal","sort":null,"scale":{"range":[23,194],"paddingInner":0.35,"paddingOuter":0.15},"axis":{"title":null,"labelAngle":-45,"labelFontSize":8}},"xOffset":{"field":"group","type":"nominal","sort":["Vehicle","LA"],"scale":{"paddingInner":0.3}}},
   "layer":[
    {"mark":{"type":"bar","stroke":"black","strokeWidth":1.5},"encoding":{"y":{"field":"mean","type":"quantitative","scale":{"domain":[0,15],"nice":false},"axis":{"title":"Fold change","values":[0,5,10,15],"offset":-23}},"color":{"field":"group","type":"nominal","scale":{"domain":["Vehicle","LA"],"range":["#000000","#22dd22"]},"legend":{"title":null,"orient":"right","offset":26,"labelFontSize":10,"labelFontWeight":"bold","symbolType":"M-1,-0.65H1V0.65H-1Z","symbolSize":144,"symbolStrokeColor":"black","symbolStrokeWidth":1.5,"rowPadding":3,"padding":0}}}},
    {"mark":{"type":"rule","strokeWidth":1.5,"color":"black"},"encoding":{"y":{"field":"mean","type":"quantitative"},"y2":{"field":"upper"}}},
    {"mark":{"type":"tick","thickness":1.5,"size":9,"color":"black"},"encoding":{"y":{"field":"upper","type":"quantitative"}}},
    {"mark":{"type":"text","baseline":"bottom","dy":-1,"fontSize":8,"fontWeight":"bold"},"encoding":{"y":{"field":"upper","type":"quantitative"},"text":{"field":"sig"}}}]}
  ]},
 {"spacing":4,"resolve":{"scale":{"x":"independent","y":"independent","color":"independent"}},
  "hconcat":[
  {"width":171,"height":111,"data":{"name":"n1"},
   "encoding":{"x":{"field":"gene","type":"nominal","sort":null,"scale":{"range":[18,171],"paddingInner":0.35,"paddingOuter":0.1},"axis":{"title":null,"labelAngle":-45,"labelFontSize":8}},"xOffset":{"field":"group","type":"nominal","sort":["Vehicle","LA"],"scale":{"paddingInner":0.3}}},
   "layer":[
    {"mark":{"type":"bar","stroke":"black","strokeWidth":1.5},"encoding":{"y":{"field":"mean","type":"quantitative","scale":{"domain":[0,40],"nice":false},"axis":{"title":"Fold change","values":[0,10,20,30,40],"offset":-18}},"color":{"field":"group","type":"nominal","scale":{"domain":["Vehicle","LA"],"range":["#000000","#f44444"]},"legend":null}}},
    {"mark":{"type":"rule","strokeWidth":1.5,"color":"black"},"encoding":{"y":{"field":"mean","type":"quantitative"},"y2":{"field":"upper"}}},
    {"mark":{"type":"tick","thickness":1.5,"size":8,"color":"black"},"encoding":{"y":{"field":"upper","type":"quantitative"}}},
    {"mark":{"type":"text","baseline":"bottom","dy":-1,"fontSize":8,"fontWeight":"bold"},"encoding":{"y":{"field":"upper","type":"quantitative"},"text":{"field":"sig"}}}]},
  {"width":213,"height":110,"data":{"name":"n2"},
   "encoding":{"x":{"field":"gene","type":"nominal","sort":null,"scale":{"range":[44,213],"paddingInner":0.35,"paddingOuter":0.1},"axis":{"title":null,"labelAngle":-45,"labelFontSize":8}},"xOffset":{"field":"group","type":"nominal","sort":["Vehicle","LA"],"scale":{"paddingInner":0.3}}},
   "layer":[
    {"mark":{"type":"bar","stroke":"black","strokeWidth":1.5},"encoding":{"y":{"field":"mean","type":"quantitative","scale":{"domain":[0,60],"nice":false},"axis":{"title":"Fold change","values":[0,20,40,60],"offset":-44}},"color":{"field":"group","type":"nominal","scale":{"domain":["Vehicle","LA"],"range":["#000000","#f44444"]},"legend":null}}},
    {"mark":{"type":"rule","strokeWidth":1.5,"color":"black"},"encoding":{"y":{"field":"mean","type":"quantitative"},"y2":{"field":"upper"}}},
    {"mark":{"type":"tick","thickness":1.5,"size":8,"color":"black"},"encoding":{"y":{"field":"upper","type":"quantitative"}}},
    {"mark":{"type":"text","baseline":"bottom","dy":-1,"fontSize":8,"fontWeight":"bold"},"encoding":{"y":{"field":"upper","type":"quantitative"},"text":{"field":"sig"}}}]},
  {"width":211,"height":110,"data":{"name":"n3"},
   "encoding":{"x":{"field":"gene","type":"nominal","sort":null,"scale":{"range":[38,211],"paddingInner":0.35,"paddingOuter":0.1},"axis":{"title":null,"labelAngle":-45,"labelFontSize":8}},"xOffset":{"field":"group","type":"nominal","sort":["Vehicle","LA"],"scale":{"paddingInner":0.3}}},
   "layer":[
    {"mark":{"type":"bar","stroke":"black","strokeWidth":1.5},"encoding":{"y":{"field":"mean","type":"quantitative","scale":{"domain":[0,40],"nice":false},"axis":{"title":"Fold change","values":[0,10,20,30,40],"offset":-38}},"color":{"field":"group","type":"nominal","scale":{"domain":["Vehicle","LA"],"range":["#000000","#f44444"]},"legend":{"title":null,"orient":"right","offset":-20,"labelFontSize":11,"labelFontWeight":"bold","symbolType":"M-1,-0.6H1V0.6H-1Z","symbolSize":196,"symbolStrokeColor":"black","symbolStrokeWidth":1.5,"rowPadding":3,"padding":0}}}},
    {"mark":{"type":"rule","strokeWidth":1.5,"color":"black"},"encoding":{"y":{"field":"mean","type":"quantitative"},"y2":{"field":"upper"}}},
    {"mark":{"type":"tick","thickness":1.5,"size":8,"color":"black"},"encoding":{"y":{"field":"upper","type":"quantitative"}}},
    {"mark":{"type":"text","baseline":"bottom","dy":-1,"fontSize":8,"fontWeight":"bold"},"encoding":{"y":{"field":"upper","type":"quantitative"},"text":{"field":"sig"}}}]}
  ]}
 ]},
{"spacing":34,"resolve":{"scale":{"x":"independent","y":"independent","color":"independent"}},
 "vconcat":[
 {"title":{"text":"b","anchor":"start","font":"Liberation Serif","fontSize":15,"fontWeight":"bold","offset":23,"dx":13},
  "spacing":18,"resolve":{"scale":{"x":"independent","y":"independent","color":"independent"}},
  "hconcat":[
  {"width":192,"height":161,
   "title":{"text":"Chromatin Accessibility around TSS of NOTCH1","fontSize":8,"offset":15,"dx":4},
   "layer":[
    {"data":{"name":"dN"},"mark":{"type":"line","interpolate":"monotone","strokeWidth":1.4},
     "encoding":{
      "x":{"field":"pos","type":"quantitative","scale":{"domain":[-2250,2250],"range":[8,192],"nice":false,"zero":false},"axis":{"values":[-2000,0,2000],"labelExpr":"datum.value < 0 ? '−2kb' : (datum.value > 0 ? '+2kb' : 'TSS')","title":null,"labelAngle":0,"labelFontWeight":"normal","labelFontSize":7,"domain":false,"tickWidth":0.8,"tickSize":4,"tickColor":"#333","labelColor":"#222","labelPadding":3}},
      "y":{"field":"density","type":"quantitative","scale":{"domain":[-0.00005,0.0014],"nice":false,"zero":false},"axis":{"offset":-8,"values":[0,0.0002,0.0004,0.0006,0.0008,0.001,0.0012],"labelExpr":"round(datum.value*10000) % 4 == 0 ? format(datum.value, '.4f') : ''","title":"Density","titleFontSize":7,"titleFontWeight":"normal","titleColor":"#222","labelFontWeight":"normal","labelFontSize":7,"labelAngle":-90,"labelAlign":"center","labelBaseline":"bottom","labelColor":"#222","labelOverlap":false,"labelPadding":3,"domain":false,"tickWidth":0.8,"tickSize":4,"tickColor":"#333","titlePadding":6}},
      "color":{"field":"cond","type":"nominal","scale":{"domain":["Vehicle","Treated"],"range":["#e8202a","#86e83a"]},"legend":{"title":null,"orient":"top-right","offset":0,"padding":4,"strokeColor":"#555","fillColor":"white","labelFontSize":7,"symbolType":"stroke","symbolStrokeWidth":2,"symbolSize":150,"rowPadding":1}},
      "detail":{"field":"rep"}}},
    {"data":{"values":[{}]},"mark":{"type":"rule","color":"#c8c8c8","strokeWidth":0.8},"encoding":{"x":{"datum":-2250},"x2":{"datum":2250},"y":{"datum":0}}},
    {"data":{"values":[{}]},"mark":{"type":"rect","filled":false,"stroke":"#444","strokeWidth":1},"encoding":{"x":{"datum":-2250},"x2":{"datum":2250},"y":{"datum":-0.00005},"y2":{"datum":0.0014}}}]},
  {"width":198,"height":161,
   "title":{"text":"Chromatin Accessibility around TSS of HEY1","fontSize":8,"offset":15,"dx":7},
   "layer":[
    {"data":{"name":"dH"},"mark":{"type":"line","interpolate":"monotone","strokeWidth":1.4},
     "encoding":{
      "x":{"field":"pos","type":"quantitative","scale":{"domain":[-2250,2250],"range":[14,198],"nice":false,"zero":false},"axis":{"values":[-2000,0,2000],"labelExpr":"datum.value < 0 ? '−2kb' : (datum.value > 0 ? '+2kb' : 'TSS')","title":null,"labelAngle":0,"labelFontWeight":"normal","labelFontSize":7,"domain":false,"tickWidth":0.8,"tickSize":4,"tickColor":"#333","labelColor":"#222","labelPadding":3}},
      "y":{"field":"density","type":"quantitative","scale":{"domain":[-0.00007,0.0018],"nice":false,"zero":false},"axis":{"offset":-14,"values":[0,0.0005,0.001,0.0015],"format":".4f","title":null,"labelFontWeight":"normal","labelFontSize":7,"labelAngle":-90,"labelAlign":"center","labelBaseline":"bottom","labelColor":"#222","labelOverlap":false,"labelPadding":3,"domain":false,"tickWidth":0.8,"tickSize":4,"tickColor":"#333"}},
      "color":{"field":"cond","type":"nominal","scale":{"domain":["Vehicle","Treated"],"range":["#e8202a","#86e83a"]},"legend":{"title":null,"orient":"top-right","offset":0,"padding":4,"strokeColor":"#555","fillColor":"white","labelFontSize":7,"symbolType":"stroke","symbolStrokeWidth":2,"symbolSize":150,"rowPadding":1}},
      "detail":{"field":"rep"}}},
    {"data":{"values":[{}]},"mark":{"type":"rule","color":"#c8c8c8","strokeWidth":0.8},"encoding":{"x":{"datum":-2250},"x2":{"datum":2250},"y":{"datum":0}}},
    {"data":{"values":[{}]},"mark":{"type":"rect","filled":false,"stroke":"#444","strokeWidth":1},"encoding":{"x":{"datum":-2250},"x2":{"datum":2250},"y":{"datum":-0.00007},"y2":{"datum":0.0018}}}]},
  {"width":185,"height":161,"view":{"stroke":"#444","strokeWidth":1},
   "title":{"text":"Chromatin Accessibility around TSS of DLL4","fontSize":8,"offset":15},
   "resolve":{"axis":{"y":"independent"}},
   "layer":[
    {"data":{"name":"dD"},"mark":{"type":"line","interpolate":"monotone","strokeWidth":1.4},
     "encoding":{
      "x":{"field":"pos","type":"quantitative","scale":{"domain":[-2250,2250],"nice":false,"zero":false},"axis":{"values":[-2000,0,2000],"labelExpr":"datum.value < 0 ? '−2kb' : (datum.value > 0 ? '+2kb' : 'TSS')","title":null,"labelAngle":0,"labelFontWeight":"normal","labelFontSize":7,"domain":false,"tickWidth":0.8,"tickSize":4,"tickColor":"#333","labelColor":"#222","labelPadding":3}},
      "y":{"field":"density","type":"quantitative","scale":{"domain":[-0.00004,0.0011],"nice":false,"zero":false},"axis":{"orient":"left","values":[0,0.0004,0.0008],"labelExpr":"datum.value < 0.0000001 ? '0e+00' : round(datum.value*10000) + 'e-04'","title":"Density","titleFontSize":7,"titleFontWeight":"normal","titleColor":"#222","labelFontWeight":"normal","labelFontSize":7,"labelAngle":-90,"labelAlign":"center","labelBaseline":"bottom","labelColor":"#222","labelOverlap":false,"labelPadding":3,"domain":false,"tickWidth":0.8,"tickSize":4,"tickColor":"#333","titlePadding":6}},
      "color":{"field":"cond","type":"nominal","scale":{"domain":["Vehicle","Treated"],"range":["#e8202a","#86e83a"]},"legend":{"title":null,"orient":"top-right","offset":0,"padding":4,"strokeColor":"#555","fillColor":"white","labelFontSize":7,"symbolType":"stroke","symbolStrokeWidth":2,"symbolSize":150,"rowPadding":1}},
      "detail":{"field":"rep"}}},
    {"data":{"values":[{}]},"mark":{"type":"rule","color":"#c8c8c8","strokeWidth":0.8},"encoding":{"y":{"datum":0,"axis":{"orient":"left","values":[0.0002,0.0006,0.001],"labelExpr":"datum.value > 0.00099 ? '1e-03' : round(datum.value*10000) + 'e-04'","title":null,"labelFontWeight":"normal","labelFontSize":7,"labelAngle":-90,"labelAlign":"center","labelBaseline":"bottom","labelColor":"#222","labelOverlap":false,"labelPadding":3,"domain":false,"tickWidth":0.8,"tickSize":4,"tickColor":"#333"}}}}]}
  ]},
 {"spacing":42,"resolve":{"scale":{"x":"independent","y":"independent","color":"independent"}},
  "hconcat":[
  {"title":{"text":"c","anchor":"start","font":"Liberation Serif","fontSize":15,"fontWeight":"bold","offset":8,"dx":-9},
   "spacing":2,"resolve":{"scale":{"x":"independent","y":"independent"}},
   "vconcat":[
   {"width":320,"height":91,"view":{"stroke":"#333","strokeWidth":1.2},"data":{"name":"sig1"},
    "resolve":{"scale":{"y":"independent"},"axis":{"x":"independent","y":"independent"}},
    "layer":[
     {"transform":[{"filter":"datum.track == 'Vehicle'"}],"mark":{"type":"area","color":"#111"},
      "encoding":{
       "x":{"field":"pos","type":"quantitative","scale":{"domain":[136534970,136554363],"nice":false,"zero":false},"axis":{"orient":"top","offset":-17,"values":[136540000,136545000,136550000],"format":",d","title":"chr9","titleAngle":0,"titleX":57,"titleY":-6,"titleAlign":"right","titleBaseline":"bottom","titleFontWeight":"normal","titleFontSize":8.5,"labelFontWeight":"normal","labelFontSize":8.5,"labelAngle":0,"domain":false,"tickSize":5,"tickWidth":1,"tickColor":"#333","labelPadding":1}},
       "y":{"field":"signal","type":"quantitative","scale":{"domain":[0,30],"range":[46,21],"nice":false},"axis":{"orient":"left","offset":-59,"values":[1,30],"title":"Vehicle","titleAngle":0,"titleAlign":"right","titleBaseline":"middle","titleX":-9,"titleY":32,"titleFontSize":8.5,"labelFontSize":7.5,"labelFontWeight":"normal","domainColor":"#f2a0a0","domainWidth":1,"tickSize":3,"tickWidth":1,"tickColor":"#333","labelPadding":1}}}},
     {"transform":[{"filter":"datum.track == 'LA'"}],"mark":{"type":"area","color":"#111"},
      "encoding":{
       "x":{"field":"pos","type":"quantitative","scale":{"domain":[136534970,136554363],"nice":false,"zero":false},"axis":null},
       "y":{"field":"signal","type":"quantitative","scale":{"domain":[0,30],"range":[74,53],"nice":false},"axis":{"orient":"left","offset":-59,"values":[1,30],"title":"Linoleic acid","titleAngle":0,"titleAlign":"right","titleBaseline":"middle","titleX":-9,"titleY":63,"titleFontSize":8.5,"labelFontSize":7.5,"labelFontWeight":"normal","domainColor":"#f2a0a0","domainWidth":1,"tickSize":3,"tickWidth":1,"tickColor":"#333","labelPadding":1}}}},
     {"data":{"name":"genes"},"transform":[{"filter":"datum.gene == 'NOTCH1'"}],
      "layer":[
       {"mark":{"type":"rule","color":"#3d85d8","strokeWidth":1.5},"encoding":{"x":{"field":"start","type":"quantitative","scale":{"domain":[136534970,136554363],"nice":false,"zero":false},"axis":null},"x2":{"field":"end"},"y":{"datum":0,"scale":{"domain":[0,1],"range":[84,78]},"axis":null}}},
       {"mark":{"type":"rule","color":"#3d85d8","strokeWidth":1.5},"encoding":{"x":{"field":"tss","type":"quantitative","scale":{"domain":[136534970,136554363],"nice":false,"zero":false},"axis":null},"y":{"datum":0,"axis":null},"y2":{"datum":1}}},
       {"mark":{"type":"rule","color":"#3d85d8","strokeWidth":1.5},"encoding":{"x":{"field":"tss","type":"quantitative","scale":{"domain":[136534970,136554363],"nice":false,"zero":false},"axis":null},"x2":{"field":"tip"},"y":{"datum":1,"axis":null}}},
       {"mark":{"type":"point","shape":"triangle-left","filled":true,"color":"#3d85d8","size":22,"opacity":1},"encoding":{"x":{"field":"tip","type":"quantitative","scale":{"domain":[136534970,136554363],"nice":false,"zero":false},"axis":null},"y":{"datum":1,"axis":null}}},
       {"mark":{"type":"text","align":"right","baseline":"middle","dx":-4,"fontSize":8.5,"fontStyle":"italic","fontWeight":"bold"},"encoding":{"x":{"field":"start","type":"quantitative","scale":{"domain":[136534970,136554363],"nice":false,"zero":false},"axis":null},"y":{"datum":0,"axis":null},"text":{"field":"gene"}}}]}]},
   {"width":320,"height":90,"view":{"stroke":"#333","strokeWidth":1.2},"data":{"name":"sig2"},
    "resolve":{"scale":{"y":"independent"},"axis":{"x":"independent","y":"independent"}},
    "layer":[
     {"transform":[{"filter":"datum.track == 'Vehicle'"}],"mark":{"type":"area","color":"#111"},
      "encoding":{
       "x":{"field":"pos","type":"quantitative","scale":{"domain":[40921548,40934246],"nice":false,"zero":false},"axis":{"orient":"top","offset":-17,"values":[40925000,40930000],"format":",d","title":"chr15","titleAngle":0,"titleX":57,"titleY":-6,"titleAlign":"right","titleBaseline":"bottom","titleFontWeight":"normal","titleFontSize":8.5,"labelFontWeight":"normal","labelFontSize":8.5,"labelAngle":0,"domain":false,"tickSize":5,"tickWidth":1,"tickColor":"#333","labelPadding":1}},
       "y":{"field":"signal","type":"quantitative","scale":{"domain":[0,30],"range":[46,21],"nice":false},"axis":{"orient":"left","offset":-59,"values":[1,30],"title":"Vehicle","titleAngle":0,"titleAlign":"right","titleBaseline":"middle","titleX":-9,"titleY":31,"titleFontSize":8.5,"labelFontSize":7.5,"labelFontWeight":"normal","domainColor":"#f2a0a0","domainWidth":1,"tickSize":3,"tickWidth":1,"tickColor":"#333","labelPadding":1}}}},
     {"transform":[{"filter":"datum.track == 'LA'"}],"mark":{"type":"area","color":"#111"},
      "encoding":{
       "x":{"field":"pos","type":"quantitative","scale":{"domain":[40921548,40934246],"nice":false,"zero":false},"axis":null},
       "y":{"field":"signal","type":"quantitative","scale":{"domain":[0,30],"range":[74,53],"nice":false},"axis":{"orient":"left","offset":-59,"values":[1,30],"title":"Linoleic acid","titleAngle":0,"titleAlign":"right","titleBaseline":"middle","titleX":-9,"titleY":63,"titleFontSize":8.5,"labelFontSize":7.5,"labelFontWeight":"normal","domainColor":"#f2a0a0","domainWidth":1,"tickSize":3,"tickWidth":1,"tickColor":"#333","labelPadding":1}}}},
     {"data":{"name":"genes"},"transform":[{"filter":"datum.gene == 'DLL4'"}],
      "layer":[
       {"mark":{"type":"rule","color":"#3d85d8","strokeWidth":1.5},"encoding":{"x":{"field":"start","type":"quantitative","scale":{"domain":[40921548,40934246],"nice":false,"zero":false},"axis":null},"x2":{"field":"end"},"y":{"datum":0,"scale":{"domain":[0,1],"range":[84,78]},"axis":null}}},
       {"mark":{"type":"rule","color":"#3d85d8","strokeWidth":1.5},"encoding":{"x":{"field":"tss","type":"quantitative","scale":{"domain":[40921548,40934246],"nice":false,"zero":false},"axis":null},"y":{"datum":0,"axis":null},"y2":{"datum":1}}},
       {"mark":{"type":"rule","color":"#3d85d8","strokeWidth":1.5},"encoding":{"x":{"field":"tss","type":"quantitative","scale":{"domain":[40921548,40934246],"nice":false,"zero":false},"axis":null},"x2":{"field":"tip"},"y":{"datum":1,"axis":null}}},
       {"mark":{"type":"point","shape":"triangle-right","filled":true,"color":"#3d85d8","size":22,"opacity":1},"encoding":{"x":{"field":"tip","type":"quantitative","scale":{"domain":[40921548,40934246],"nice":false,"zero":false},"axis":null},"y":{"datum":1,"axis":null}}},
       {"mark":{"type":"text","align":"right","baseline":"middle","dx":-12,"fontSize":8.5,"fontStyle":"italic","fontWeight":"bold"},"encoding":{"x":{"field":"tss","type":"quantitative","scale":{"domain":[40921548,40934246],"nice":false,"zero":false},"axis":null},"y":{"datum":0,"axis":null},"text":{"field":"gene"}}}]}]},
   {"width":320,"height":91,"view":{"stroke":"#333","strokeWidth":1.2},"data":{"name":"sig3"},
    "resolve":{"scale":{"y":"independent"},"axis":{"x":"independent","y":"independent"}},
    "layer":[
     {"transform":[{"filter":"datum.track == 'Vehicle'"}],"mark":{"type":"area","color":"#111"},
      "encoding":{
       "x":{"field":"pos","type":"quantitative","scale":{"domain":[79759913,79773826],"nice":false,"zero":false},"axis":{"orient":"top","offset":-17,"values":[79765000,79770000],"format":",d","title":"chr8","titleAngle":0,"titleX":57,"titleY":-6,"titleAlign":"right","titleBaseline":"bottom","titleFontWeight":"normal","titleFontSize":8.5,"labelFontWeight":"normal","labelFontSize":8.5,"labelAngle":0,"domain":false,"tickSize":5,"tickWidth":1,"tickColor":"#333","labelPadding":1}},
       "y":{"field":"signal","type":"quantitative","scale":{"domain":[0,30],"range":[46,21],"nice":false},"axis":{"orient":"left","offset":-59,"values":[1,30],"title":"Vehicle","titleAngle":0,"titleAlign":"right","titleBaseline":"middle","titleX":-9,"titleY":32,"titleFontSize":8.5,"labelFontSize":7.5,"labelFontWeight":"normal","domainColor":"#f2a0a0","domainWidth":1,"tickSize":3,"tickWidth":1,"tickColor":"#333","labelPadding":1}}}},
     {"transform":[{"filter":"datum.track == 'LA'"}],"mark":{"type":"area","color":"#111"},
      "encoding":{
       "x":{"field":"pos","type":"quantitative","scale":{"domain":[79759913,79773826],"nice":false,"zero":false},"axis":null},
       "y":{"field":"signal","type":"quantitative","scale":{"domain":[0,30],"range":[74,53],"nice":false},"axis":{"orient":"left","offset":-59,"values":[1,30],"title":"Linoleic acid","titleAngle":0,"titleAlign":"right","titleBaseline":"middle","titleX":-9,"titleY":63,"titleFontSize":8.5,"labelFontSize":7.5,"labelFontWeight":"normal","domainColor":"#f2a0a0","domainWidth":1,"tickSize":3,"tickWidth":1,"tickColor":"#333","labelPadding":1}}}},
     {"data":{"name":"genes"},"transform":[{"filter":"datum.gene == 'HEY1'"}],
      "layer":[
       {"mark":{"type":"rule","color":"#3d85d8","strokeWidth":1.5},"encoding":{"x":{"field":"start","type":"quantitative","scale":{"domain":[79759913,79773826],"nice":false,"zero":false},"axis":null},"x2":{"field":"end"},"y":{"datum":0,"scale":{"domain":[0,1],"range":[84,78]},"axis":null}}},
       {"mark":{"type":"rule","color":"#3d85d8","strokeWidth":1.5},"encoding":{"x":{"field":"tss","type":"quantitative","scale":{"domain":[79759913,79773826],"nice":false,"zero":false},"axis":null},"y":{"datum":0,"axis":null},"y2":{"datum":1}}},
       {"mark":{"type":"rule","color":"#3d85d8","strokeWidth":1.5},"encoding":{"x":{"field":"tss","type":"quantitative","scale":{"domain":[79759913,79773826],"nice":false,"zero":false},"axis":null},"x2":{"field":"tip"},"y":{"datum":1,"axis":null}}},
       {"mark":{"type":"point","shape":"triangle-left","filled":true,"color":"#3d85d8","size":22,"opacity":1},"encoding":{"x":{"field":"tip","type":"quantitative","scale":{"domain":[79759913,79773826],"nice":false,"zero":false},"axis":null},"y":{"datum":1,"axis":null}}},
       {"mark":{"type":"text","align":"left","baseline":"middle","dx":8,"fontSize":8.5,"fontStyle":"italic","fontWeight":"bold"},"encoding":{"x":{"field":"tss","type":"quantitative","scale":{"domain":[79759913,79773826],"nice":false,"zero":false},"axis":null},"y":{"datum":0,"axis":null},"text":{"field":"gene"}}}]}]}
   ]},
  {"width":197,"height":192,
   "title":{"text":"d","anchor":"start","frame":"group","font":"Liberation Serif","fontSize":15,"fontWeight":"bold","offset":6,"dx":5},
   "data":{"name":"le"},
   "mark":{"type":"bar","color":"#9467bd"},
   "encoding":{
    "y":{"field":"gene","type":"nominal","sort":null,"scale":{"paddingInner":0.22,"paddingOuter":0.667},"axis":{"title":null,"labelFont":"DejaVu Serif","labelFontSize":10.5,"labelFontWeight":"bold","domainWidth":1.5,"tickWidth":1.2,"tickSize":3.5,"labelPadding":2}},
    "x":{"field":"score","type":"quantitative","scale":{"domain":[-0.24,4.92],"nice":false,"zero":false},"axis":{"orient":"top","offset":-9,"values":[0,1,2,3,4],"title":"Leading Edge Score","titleFont":"DejaVu Serif","titleFontSize":13,"labelFont":"DejaVu Serif","labelFontSize":10.5,"labelFontWeight":"bold","labelAngle":0,"domainWidth":1.5,"tickWidth":1.2,"tickSize":3.5,"labelPadding":1,"titlePadding":0}}}}
  ]}
 ]}
]
}
